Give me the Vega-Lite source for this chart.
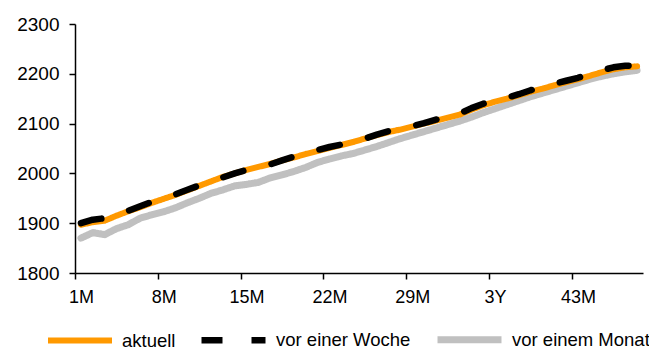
{
  "$schema": "https://vega.github.io/schema/vega-lite/v6.json",
  "width": 568,
  "height": 249,
  "autosize": {"type": "none"},
  "padding": {"left": 75, "top": 24, "right": 6, "bottom": 78},
  "background": "white",
  "config": {
    "view": {"stroke": null},
    "font": "Liberation Sans",
    "axis": {"labelFont": "Liberation Sans", "labelFontSize": 18, "labelColor": "#000", "domainColor": "#000", "tickColor": "#000", "domainWidth": 1.5, "tickWidth": 1.5, "tickSize": 6, "grid": false, "title": null}
  },
  "data": {
    "values": [
      {"t":"1M","s":"vor einem Monat","v":1870},{"t":"2M","s":"vor einem Monat","v":1881},{"t":"3M","s":"vor einem Monat","v":1877},{"t":"4M","s":"vor einem Monat","v":1889},{"t":"5M","s":"vor einem Monat","v":1897},{"t":"6M","s":"vor einem Monat","v":1910},{"t":"7M","s":"vor einem Monat","v":1917},{"t":"8M","s":"vor einem Monat","v":1923},{"t":"9M","s":"vor einem Monat","v":1931},{"t":"10M","s":"vor einem Monat","v":1941},{"t":"11M","s":"vor einem Monat","v":1950},{"t":"1Y","s":"vor einem Monat","v":1960},{"t":"13M","s":"vor einem Monat","v":1967},{"t":"14M","s":"vor einem Monat","v":1975},{"t":"15M","s":"vor einem Monat","v":1978},{"t":"16M","s":"vor einem Monat","v":1982},{"t":"17M","s":"vor einem Monat","v":1991},{"t":"18M","s":"vor einem Monat","v":1997},{"t":"19M","s":"vor einem Monat","v":2004},{"t":"20M","s":"vor einem Monat","v":2012},{"t":"21M","s":"vor einem Monat","v":2022},{"t":"22M","s":"vor einem Monat","v":2029},{"t":"23M","s":"vor einem Monat","v":2035},{"t":"2Y","s":"vor einem Monat","v":2040},{"t":"25M","s":"vor einem Monat","v":2047},{"t":"26M","s":"vor einem Monat","v":2054},{"t":"27M","s":"vor einem Monat","v":2062},{"t":"28M","s":"vor einem Monat","v":2070},{"t":"29M","s":"vor einem Monat","v":2077},{"t":"30M","s":"vor einem Monat","v":2084},{"t":"31M","s":"vor einem Monat","v":2091},{"t":"32M","s":"vor einem Monat","v":2098},{"t":"33M","s":"vor einem Monat","v":2105},{"t":"34M","s":"vor einem Monat","v":2113},{"t":"35M","s":"vor einem Monat","v":2122},{"t":"3Y","s":"vor einem Monat","v":2130},{"t":"37M","s":"vor einem Monat","v":2138},{"t":"38M","s":"vor einem Monat","v":2146},{"t":"39M","s":"vor einem Monat","v":2154},{"t":"40M","s":"vor einem Monat","v":2161},{"t":"41M","s":"vor einem Monat","v":2168},{"t":"42M","s":"vor einem Monat","v":2175},{"t":"43M","s":"vor einem Monat","v":2182},{"t":"44M","s":"vor einem Monat","v":2189},{"t":"45M","s":"vor einem Monat","v":2195},{"t":"46M","s":"vor einem Monat","v":2200},{"t":"47M","s":"vor einem Monat","v":2204},{"t":"4Y","s":"vor einem Monat","v":2207},
      {"t":"1M","s":"aktuell","v":1897},{"t":"2M","s":"aktuell","v":1902},{"t":"3M","s":"aktuell","v":1905},{"t":"4M","s":"aktuell","v":1915},{"t":"5M","s":"aktuell","v":1924},{"t":"6M","s":"aktuell","v":1932},{"t":"7M","s":"aktuell","v":1941},{"t":"8M","s":"aktuell","v":1949},{"t":"9M","s":"aktuell","v":1957},{"t":"10M","s":"aktuell","v":1966},{"t":"11M","s":"aktuell","v":1975},{"t":"1Y","s":"aktuell","v":1984},{"t":"13M","s":"aktuell","v":1993},{"t":"14M","s":"aktuell","v":2000},{"t":"15M","s":"aktuell","v":2007},{"t":"16M","s":"aktuell","v":2013},{"t":"17M","s":"aktuell","v":2019},{"t":"18M","s":"aktuell","v":2026},{"t":"19M","s":"aktuell","v":2032},{"t":"20M","s":"aktuell","v":2039},{"t":"21M","s":"aktuell","v":2045},{"t":"22M","s":"aktuell","v":2051},{"t":"23M","s":"aktuell","v":2057},{"t":"2Y","s":"aktuell","v":2063},{"t":"25M","s":"aktuell","v":2070},{"t":"26M","s":"aktuell","v":2077},{"t":"27M","s":"aktuell","v":2083},{"t":"28M","s":"aktuell","v":2088},{"t":"29M","s":"aktuell","v":2094},{"t":"30M","s":"aktuell","v":2100},{"t":"31M","s":"aktuell","v":2106},{"t":"32M","s":"aktuell","v":2112},{"t":"33M","s":"aktuell","v":2118},{"t":"34M","s":"aktuell","v":2128},{"t":"35M","s":"aktuell","v":2137},{"t":"3Y","s":"aktuell","v":2144},{"t":"37M","s":"aktuell","v":2150},{"t":"38M","s":"aktuell","v":2157},{"t":"39M","s":"aktuell","v":2164},{"t":"40M","s":"aktuell","v":2170},{"t":"41M","s":"aktuell","v":2177},{"t":"42M","s":"aktuell","v":2183},{"t":"43M","s":"aktuell","v":2189},{"t":"44M","s":"aktuell","v":2196},{"t":"45M","s":"aktuell","v":2203},{"t":"46M","s":"aktuell","v":2209},{"t":"47M","s":"aktuell","v":2213},{"t":"4Y","s":"aktuell","v":2215},
      {"t":"1M","s":"vor einer Woche","v":1900},{"t":"2M","s":"vor einer Woche","v":1907},{"t":"3M","s":"vor einer Woche","v":1910},{"t":"4M","s":"vor einer Woche","v":1916},{"t":"5M","s":"vor einer Woche","v":1925},{"t":"6M","s":"vor einer Woche","v":1934},{"t":"7M","s":"vor einer Woche","v":1943},{"t":"8M","s":"vor einer Woche","v":1950},{"t":"9M","s":"vor einer Woche","v":1958},{"t":"10M","s":"vor einer Woche","v":1967},{"t":"11M","s":"vor einer Woche","v":1976},{"t":"1Y","s":"vor einer Woche","v":1984},{"t":"13M","s":"vor einer Woche","v":1992},{"t":"14M","s":"vor einer Woche","v":2000},{"t":"15M","s":"vor einer Woche","v":2007},{"t":"16M","s":"vor einer Woche","v":2012},{"t":"17M","s":"vor einer Woche","v":2018},{"t":"18M","s":"vor einer Woche","v":2026},{"t":"19M","s":"vor einer Woche","v":2034},{"t":"20M","s":"vor einer Woche","v":2041},{"t":"21M","s":"vor einer Woche","v":2047},{"t":"22M","s":"vor einer Woche","v":2053},{"t":"23M","s":"vor einer Woche","v":2058},{"t":"2Y","s":"vor einer Woche","v":2063},{"t":"25M","s":"vor einer Woche","v":2070},{"t":"26M","s":"vor einer Woche","v":2078},{"t":"27M","s":"vor einer Woche","v":2085},{"t":"28M","s":"vor einer Woche","v":2090},{"t":"29M","s":"vor einer Woche","v":2095},{"t":"30M","s":"vor einer Woche","v":2101},{"t":"31M","s":"vor einer Woche","v":2108},{"t":"32M","s":"vor einer Woche","v":2114},{"t":"33M","s":"vor einer Woche","v":2120},{"t":"34M","s":"vor einer Woche","v":2131},{"t":"35M","s":"vor einer Woche","v":2140},{"t":"3Y","s":"vor einer Woche","v":2147},{"t":"37M","s":"vor einer Woche","v":2152},{"t":"38M","s":"vor einer Woche","v":2159},{"t":"39M","s":"vor einer Woche","v":2167},{"t":"40M","s":"vor einer Woche","v":2173},{"t":"41M","s":"vor einer Woche","v":2180},{"t":"42M","s":"vor einer Woche","v":2186},{"t":"43M","s":"vor einer Woche","v":2192},{"t":"44M","s":"vor einer Woche","v":2200},{"t":"45M","s":"vor einer Woche","v":2207},{"t":"46M","s":"vor einer Woche","v":2213},{"t":"47M","s":"vor einer Woche","v":2216},{"t":"4Y","s":"vor einer Woche","v":2217}
    ]
  },
  "mark": {"type": "line", "strokeCap": "round", "strokeJoin": "round"},
  "encoding": {
    "x": {
      "field": "t", "type": "ordinal", "sort": null,
      "scale": {"type": "point", "padding": 0.5},
      "axis": {"values": ["1M","8M","15M","22M","29M","3Y","43M"], "labelAngle": 0, "tickOffset": -5.92, "labelOffset": 5.92, "labelPadding": 9, "labelFontSize": 18}
    },
    "y": {
      "field": "v", "type": "quantitative",
      "scale": {"domain": [1800, 2300], "zero": false, "nice": false},
      "axis": {"values": [1800,1900,2000,2100,2200,2300], "format": "d", "labelPadding": 10, "labelFontSize": 19}
    },
    "color": {
      "field": "s", "type": "nominal",
      "scale": {"domain": ["aktuell","vor einer Woche","vor einem Monat"], "range": ["#FF9900","#000000","#C0C0C0"]},
      "legend": {
        "title": null, "orient": "none", "direction": "horizontal",
        "legendX": -30, "legendY": 280,
        "symbolType": "stroke", "symbolSize": 4096, "symbolStrokeWidth": 6,
        "labelFont": "Liberation Sans", "labelFontSize": 18.5, "labelColor": "#000",
        "labelOffset": 7, "columnPadding": 12,
        "symbolFillColor": "transparent"
      }
    },
    "strokeDash": {
      "field": "s", "type": "nominal",
      "scale": {"domain": ["aktuell","vor einer Woche","vor einem Monat"], "range": [[1,0],[21,29],[1,0]]},
      "legend": null
    },
    "strokeWidth": {
      "field": "s", "type": "nominal",
      "scale": {"domain": ["aktuell","vor einer Woche","vor einem Monat"], "range": [6,7,6]},
      "legend": null
    }
  }
}
